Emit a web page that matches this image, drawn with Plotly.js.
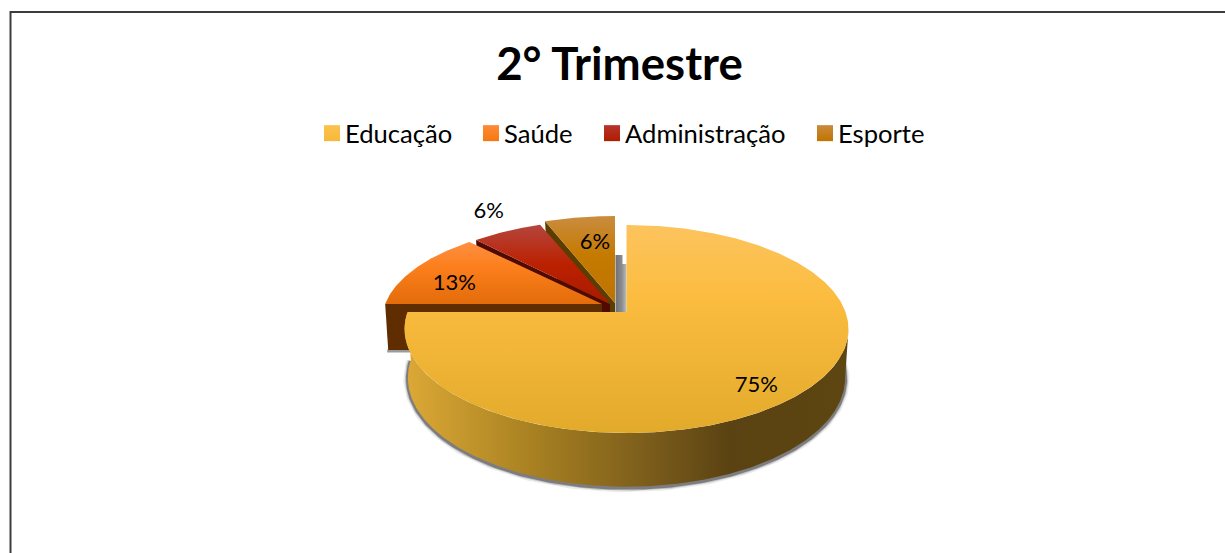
<!DOCTYPE html>
<html>
<head>
<meta charset="utf-8">
<script src="https://cdn.plot.ly/plotly-3.0.1.min.js"></script>
<style>html,body{margin:0;padding:0;background:#fff;overflow:hidden}#chart{width:1225px;height:553px}</style>
</head>
<body>
<div id="chart"></div>
<script>
const categories = ['Educação', 'Saúde', 'Administração', 'Esporte'];
const values = [75, 13, 6, 6];
const chartTitle = '2° Trimestre';

// projection of the tilted pie (pixel-scaled axes)
const CX = 626.5, CY = 312, RX = 219, RY = 101.2, PERSP = 0.1635;
const DEPTH = 47;
const explodeX = [0, -24.5, -16.5, -11.5];
const explodeY = [0, -8, -8, -9];
const squashX = [1, 0.99, 1, 1];
const squashY = [1, 0.94, 0.97, 1];
const topStops = [
  [[0, '#fdc45e'], [0.35, '#fbbc3f'], [1, '#e2aa2b']],
  [[0, '#fe8f44'], [0.4, '#fc7f1c'], [1, '#e36c0a']],
  [[0, '#b5453e'], [0.5, '#bb2100'], [1, '#a81a00']],
  [[0, '#ca8c40'], [0.45, '#c57a00'], [1, '#bd7400']]
];
const sideColors = ['#5b4312', '#5f2d00', '#500a00', '#5b3d00'];
const labelRadius = [0.86, 0.62, 1.17, 0.62];
const labelNudgeX = [-18, -28, -3, 3];
const labelNudgeY = [6, 4, -5, -3];
const legendTextStart = [345, 504, 625, 838];

function project(theta, r, dx, dy, sx, sy) {
  const u = r * Math.sin(theta), v = r * Math.cos(theta), d = 1 + PERSP * v;
  return [CX + (sx || 1) * RX * u / d + dx, CY - (sy || 1) * RY * v / d + dy];
}
function projectLow(theta, dx) {
  const u = Math.sin(theta), v = Math.cos(theta), d = 1 + PERSP * v;
  return [CX + 0.985 * RX * u / d + dx, CY + DEPTH + 1 - 106 * v / d];
}
const total = values.reduce((a, b) => a + b, 0);
const starts = [];
values.reduce((acc, v, i) => { starts[i] = acc; return acc + v; }, 0);
const ang = f => 2 * Math.PI * f / total;

function arc(a0, a1, fn) {
  const n = Math.max(8, Math.ceil((a1 - a0) / 0.01)), out = [];
  for (let i = 0; i <= n; i++) out.push(fn(a0 + (a1 - a0) * i / n));
  return out;
}
function poly(pts, extra) {
  return Object.assign({
    x: pts.map(p => p[0]), y: pts.map(p => p[1]),
    type: 'scatter', mode: 'lines', fill: 'toself',
    line: { width: 0 }, hoverinfo: 'skip', showlegend: false
  }, extra);
}
function wedgeTop(i) {
  const a0 = ang(starts[i]), a1 = ang(starts[i] + values[i]);
  const dx = explodeX[i], dy = explodeY[i];
  const pts = [[CX + dx, CY + dy]].concat(arc(a0, a1, t => project(t, 1, dx, dy, squashX[i], squashY[i])));
  pts.push([CX + dx, CY + dy]);
  const ys = pts.map(p => p[1]);
  return poly(pts, {
    name: categories[i],
    fillgradient: { type: 'vertical', colorscale: topStops[i], start: Math.min(...ys), stop: Math.max(...ys) }
  });
}
function wedgeSide(i) {
  const a0 = ang(starts[i]);
  const dx = explodeX[i], dy = explodeY[i];
  const rim = project(a0, 1, dx, dy, squashX[i], squashY[i]);
  const apex = [CX + dx, CY + dy];
  return poly([rim, apex, [apex[0], apex[1] + DEPTH - 1], [rim[0] + 3, rim[1] + DEPTH - 1], rim],
    { fillcolor: sideColors[i] });
}

const traces = [];

// soft shadows
const a0Main = ang(starts[0]), a1Main = ang(starts[0] + values[0]);
const lowArc = arc(1.2, a1Main, t => projectLow(t, 0));
[[9, 0.1], [6, 0.22], [4, 0.5]].forEach(s => {
  traces.push({
    x: lowArc.map(p => p[0]), y: lowArc.map(p => p[1] + 1), type: 'scatter', mode: 'lines',
    line: { width: s[0], color: 'rgba(55,55,60,' + s[1] + ')' }, hoverinfo: 'skip', showlegend: false
  });
});
const sRim = project(ang(starts[1]), 1, explodeX[1], explodeY[1], squashX[1], squashY[1]);
traces.push({
  x: [sRim[0] + 2, sRim[0] + 30], y: [sRim[1] + DEPTH, sRim[1] + DEPTH], type: 'scatter', mode: 'lines',
  line: { width: 3, color: 'rgba(55,55,60,0.5)' }, hoverinfo: 'skip', showlegend: false
});

// shadow cast beside the last wedge
traces.push(poly([[CX - 11, CY - 57], [CX - 4, CY - 57], [CX - 4, CY - 48], [CX, CY - 48], [CX, CY], [CX - 11, CY], [CX - 11, CY - 57]], {
  fillgradient: { type: 'horizontal', colorscale: [[0, '#6d7075'], [0.6, '#8c8e90'], [1, '#bdbdbd']], start: CX - 11, stop: CX }
}));

// detached wedges: far to near
[3, 2, 1].forEach(i => { traces.push(wedgeSide(i)); traces.push(wedgeTop(i)); });

// main wedge side wall, then top
let best = 0, bestX = -1e9;
arc(0, Math.PI, t => t).forEach(t => { const x = project(t, 1, 0, 0)[0]; if (x > bestX) { bestX = x; best = t; } });
const upper = arc(best, a1Main, t => project(t, 1, 0, 0));
const lower = arc(best, a1Main, t => projectLow(t, 0)).reverse();
traces.push(poly(upper.concat(lower), {
  fillgradient: {
    type: 'horizontal',
    colorscale: [[0, '#dba835'], [0.28, '#a98122'], [0.55, '#7a5c1b'], [0.73, '#5a4212'], [1, '#5e4612']],
    start: CX - RX, stop: CX + RX + 4
  }
}));
traces.push(wedgeTop(0));

// percentage labels
const labelPts = values.map((v, i) => {
  const mid = ang(starts[i] + v / 2);
  const p = project(mid, labelRadius[i], explodeX[i], explodeY[i]);
  return [p[0] + labelNudgeX[i], p[1] + labelNudgeY[i]];
});
traces.push({
  x: labelPts.map(p => p[0]), y: labelPts.map(p => p[1]),
  text: values.map(v => Math.round(100 * v / total) + '%'),
  type: 'scatter', mode: 'text', textposition: 'middle center',
  textfont: { family: 'Lato, sans-serif', size: 22, color: '#000' },
  hoverinfo: 'skip', showlegend: false
});

// legend entries
const legendBase = ['#fcc24f', '#fe8a3a', '#b7352c', '#ca8a3c'];
const legendEnd = ['#f6b93a', '#f6780f', '#ae1c00', '#c07500'];
const legendLayout = {};
categories.forEach((c, i) => {
  const id = i === 0 ? 'legend' : 'legend' + (i + 1);
  traces.push({
    x: [null], y: [null], name: c, type: 'scatter', mode: 'markers', legend: id,
    marker: { symbol: 'square', size: 16, color: legendBase[i], line: { width: 0 },
              gradient: { type: 'vertical', color: legendEnd[i] } },
    hoverinfo: 'skip'
  });
  legendLayout[id] = {
    x: (legendTextStart[i] - 40) / 1225, xanchor: 'left', y: 1 - 133.5 / 553, yanchor: 'middle',
    font: { family: 'Lato, sans-serif', size: 25.6, color: '#000' },
    itemwidth: 30, bgcolor: 'rgba(0,0,0,0)'
  };
});

const layout = Object.assign({
  width: 1225, height: 553, autosize: false,
  margin: { l: 0, r: 0, t: 0, b: 0 },
  paper_bgcolor: '#fff', plot_bgcolor: '#fff',
  font: { family: 'Lato, sans-serif', color: '#000' },
  title: {
    text: '<b>' + chartTitle + '</b>',
    font: { family: 'Lato, sans-serif', size: 45.6, color: '#000' },
    x: 619.5 / 1225, xanchor: 'center', xref: 'paper',
    y: 1 - 64 / 553, yanchor: 'middle', yref: 'paper'
  },
  xaxis: { range: [0, 1225], visible: false, fixedrange: true },
  yaxis: { range: [553, 0], visible: false, fixedrange: true },
  showlegend: true,
  shapes: [{
    type: 'path', xref: 'x', yref: 'y', path: 'M 10.5 553 L 10.5 12 L 1225 12',
    line: { color: '#3c3c3c', width: 2 }, layer: 'above'
  }]
}, legendLayout);
Plotly.newPlot('chart', traces, layout, { displayModeBar: false, responsive: false }).then(() => {
  // sit each swatch closer to its text, as in the reference legend
  document.querySelectorAll('.legendpoints').forEach(g => g.setAttribute('transform', 'translate(7,0)'));
});
</script>
</body>
</html>
